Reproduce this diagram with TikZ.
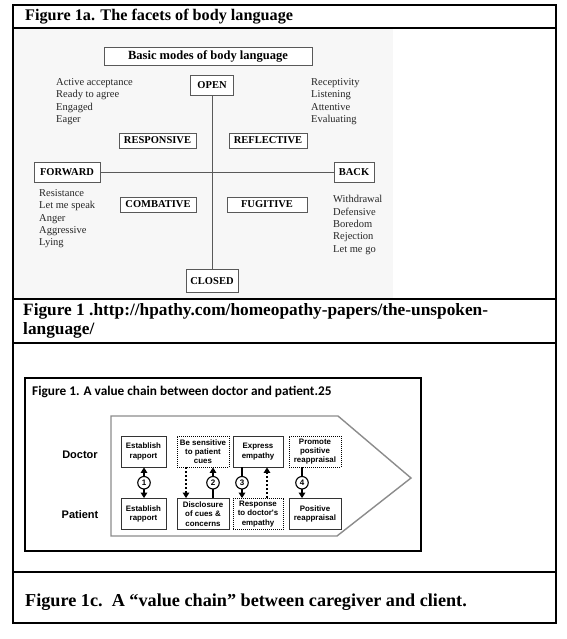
\documentclass[tikz,border=0pt]{standalone}
\usepackage{fontspec}
\setmainfont{Liberation Serif}
\newfontfamily\arialf{Liberation Sans}
\newfontfamily\calib{Carlito}
\usetikzlibrary{arrows.meta}
\begin{document}
\begin{tikzpicture}[x=1pt,y=-1pt,
  tbl/.style={draw=black, line width=1.1pt},
  mbox/.style={draw=black!65, line width=0.7pt, fill=white, inner sep=0pt,
    font=\fontsize{10.5}{12}\selectfont\bfseries, minimum height=15pt},
  axisline/.style={draw=black!65, line width=0.8pt},
  lst/.style={align=left, anchor=north west, inner sep=0pt,
    font=\fontsize{10.5}{12.3}\selectfont, text=black!85},
  captxt/.style={anchor=base west, inner sep=0pt, font=\fontsize{17.3}{19}\selectfont\bfseries},
  sbox/.style={draw=black!80, line width=0.8pt, fill=white, inner sep=0pt,
    minimum height=31pt, align=center,
    font=\arialf\fontsize{7.9}{9.3}\selectfont\bfseries},
  dbox/.style={sbox, draw=black, line width=0.8pt, dash pattern=on 1pt off 1pt},
  lab/.style={inner sep=0pt, font=\arialf\fontsize{11}{13}\selectfont\bfseries},
  chev/.style={draw=black!45, line width=1.4pt, line join=miter},
  sol/.style={draw=black, line width=2.2pt},
  dotl/.style={draw=black, line width=2.2pt, dash pattern=on 2pt off 2pt},
  tip/.style={-{Triangle[width=6.5pt,length=5.5pt]}},
  circ/.style={circle, draw=black, line width=1.1pt, fill=white, inner sep=0pt,
    minimum size=12.5pt, font=\arialf\fontsize{8}{9}\selectfont\bfseries}
]
\useasboundingbox (0,0) rectangle (566,639);
\fill[white] (0,0) rectangle (566,639);

% ---- table frame ----
\fill[black!3] (14,29) rectangle (393,298);
\draw[tbl] (13,5) rectangle (556,623);
\draw[tbl] (13,28) -- (556,28);
\draw[tbl] (13,299) -- (556,299);
\draw[tbl] (13,343) -- (556,343);
\draw[tbl] (13,572) -- (556,572);

% ---- captions ----
\node[captxt, font=\fontsize{16.2}{19}\selectfont\bfseries] (t1) at (25,21) {Figure 1a. The facets of body language};
\node[captxt] (t2a) at (23,315) {Figure 1 .http://hpathy.com/homeopathy-papers/the-unspoken-};
\node[captxt] (t2b) at (23,334) {language/};
\node[captxt, font=\fontsize{18.2}{20}\selectfont\bfseries] (t3) at (25,606) {Figure 1c.\ \ A “value chain” between caregiver and client.};

% ---- figure 1a ----
\node[mbox, minimum width=208pt, minimum height=18pt,
  font=\fontsize{12.5}{14}\selectfont\bfseries] (basic) at (208,56) {Basic modes of body language};
\node[mbox, minimum width=43pt, minimum height=20pt] (open) at (212,85) {OPEN};
\node[mbox, minimum width=52pt, minimum height=23pt] (closed) at (212,281) {CLOSED};
\draw[axisline] (open) -- (closed);
\node[mbox, minimum width=66pt, minimum height=20pt] (fwd) at (67,172) {FORWARD};
\node[mbox, minimum width=40pt, minimum height=20pt] (back) at (354,172) {BACK};
\draw[axisline] (fwd) -- (back);
\node[mbox, minimum width=77pt] (resp) at (157.5,140.5) {RESPONSIVE};
\node[mbox, minimum width=78pt] (refl) at (268,140.5) {REFLECTIVE};
\node[mbox, minimum width=76pt] (comb) at (158,204.5) {COMBATIVE};
\node[mbox, minimum width=80pt] (fug) at (267,204.5) {FUGITIVE};

\node[lst] (l1) at (56,78.5) {Active acceptance\\Ready to agree\\Engaged\\Eager};
\node[lst] (l2) at (311,78.5) {Receptivity\\Listening\\Attentive\\Evaluating};
\node[lst] (l3) at (39,189.5) {Resistance\\Let me speak\\Anger\\Aggressive\\Lying};
\node[lst] (l4) at (333,195.5) {Withdrawal\\Defensive\\Boredom\\Rejection\\Let me go};

% ---- value chain ----
\draw[draw=black, line width=1.3pt] (25,378) rectangle (421,551);
\node[anchor=west, inner sep=0pt, font=\calib\bfseries\fontsize{13.3}{15}\selectfont] (vt) at (32,392)
  {Figure 1. A value chain between doctor and patient.25};
\draw[chev] (111,416) -- (338,416) -- (411,478) -- (337,536) -- (111,536) -- cycle;

\node[lab] (doc) at (80,455) {Doctor};
\node[lab] (pat) at (80,515) {Patient};

\node[sbox, minimum width=45pt] (d1) at (143.5,451.5) {Establish\\rapport};
\node[dbox, minimum width=52pt] (d2) at (203,451.5) {Be sensitive\\to patient\\cues};
\node[sbox, minimum width=50pt] (d3) at (258,451.5) {Express\\empathy};
\node[dbox, minimum width=52pt] (d4) at (315,451.5) {Promote\\positive\\reappraisal};
\node[sbox, minimum width=45pt] (p1) at (143.5,514) {Establish\\rapport};
\node[sbox, minimum width=52pt] (p2) at (203,514) {Disclosure\\of cues \&\\concerns};
\node[dbox, minimum width=50pt] (p3) at (258,514) {Response\\to doctor's\\empathy};
\node[sbox, minimum width=52pt] (p4) at (315,514) {Positive\\reappraisal};

\draw[sol, {Triangle[width=6.5pt,length=5.5pt]}-{Triangle[width=6.5pt,length=5.5pt]}]
  ([xshift=0.5pt]d1.south) -- node[circ] {1} ([xshift=0.5pt]p1.north);
\draw[dotl, tip] ([xshift=-17pt]d2.south) -- ([xshift=-17pt]p2.north);
\draw[sol, tip] ([xshift=10pt]p2.north) -- node[circ] {2} ([xshift=10pt]d2.south);
\draw[sol, tip] ([xshift=-16pt]d3.south) -- node[circ] {3} ([xshift=-16pt]p3.north);
\draw[dotl, tip] ([xshift=9pt]p3.north) -- ([xshift=9pt]d3.south);
\draw[sol, tip] ([xshift=-13pt]d4.south) -- node[circ] {4} ([xshift=-13pt]p4.north);
\end{tikzpicture}
\end{document}
